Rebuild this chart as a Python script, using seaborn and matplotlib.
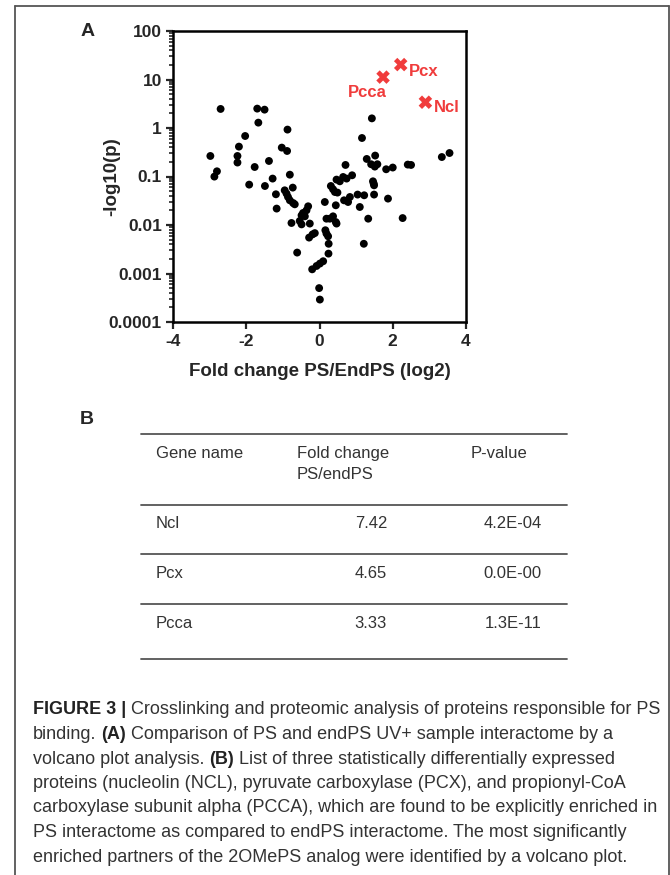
import numpy as np
import pandas as pd
import matplotlib
matplotlib.use("Agg")
import matplotlib.pyplot as plt
import seaborn as sns
from matplotlib.lines import Line2D

# volcano plot data
fold_change = [-2.98, -2.80, -2.87, -2.70, -2.24, -2.24, -2.20, -2.03, -1.92, -1.77,
               -1.70, -1.50, -1.67, -1.38, -1.49, -1.28, -1.19, -1.17, -1.03, -0.885,
               -0.874, -0.81, -0.73, -0.95, -0.90, -0.86, -0.81, -0.72, -0.675, -0.765,
               -0.61, -0.54, -0.49, -0.49, -0.45, -0.355, -0.31, -0.40, -0.265, -0.284,
               -0.19, -0.128, -0.20, -0.08, 0.01, 0.10, -0.01, 0.01,
               0.145, 0.16, 0.19, 0.235, 0.25, 0.245, 0.19, 0.28, 0.37, 0.445,
               0.465, 0.445, 0.31, 0.37, 0.42, 0.49, 0.465, 0.555, 0.645, 0.74,
               0.89, 0.71, 0.67, 0.78, 0.83,
               1.04, 1.22, 1.49, 1.10, 1.87, 1.33, 2.27, 1.21,
               1.43, 1.16, 1.29, 1.52, 1.41, 1.51, 1.58, 1.82, 2.0, 2.41,
               2.50, 3.34, 3.55, 1.46, 1.48, 1.49]
log_p = [0.265, 0.128, 0.0995, 2.47, 0.265, 0.194, 0.413, 0.684, 0.068, 0.157,
         2.51, 2.39, 1.29, 0.209, 0.0637, 0.0906, 0.043, 0.0218, 0.394, 0.336,
         0.927, 0.109, 0.059, 0.0519, 0.0444, 0.0378, 0.0323, 0.0284, 0.0267, 0.011,
         0.0027, 0.0121, 0.0103, 0.0158, 0.0177, 0.0201, 0.0243, 0.0151, 0.0107, 0.0055,
         0.0064, 0.0068, 0.00122, 0.00143, 0.0016, 0.00179, 0.0005, 0.00029,
         0.0298, 0.0078, 0.00665, 0.00585, 0.0041, 0.00257, 0.0135, 0.0135, 0.0151, 0.0115,
         0.0107, 0.0255, 0.0637, 0.0545, 0.0479, 0.0466, 0.0863, 0.0796, 0.0977, 0.0906,
         0.106, 0.173, 0.0323, 0.0298, 0.0378,
         0.0424, 0.041, 0.0424, 0.0235, 0.035, 0.0135, 0.0139, 0.0041,
         1.58, 0.622, 0.23, 0.27, 0.179, 0.16, 0.179, 0.141, 0.153, 0.176,
         0.173, 0.252, 0.305, 0.0796, 0.0714, 0.0658]

# the three hits
hit_names = ["Ncl", "Pcx", "Pcca"]
hit_fold = [7.42, 4.65, 3.33]
hit_logp = [3.4, 20.3, 11.2]
hit_pvalue = ["4.2E-04", "0.0E-00", "1.3E-11"]

x_ticks = [-4, -2, 0, 2, 4]
y_ticks = [0.0001, 0.001, 0.01, 0.1, 1, 10, 100]
y_ticklabels = ["0.0001", "0.001", "0.01", "0.1", "1", "10", "100"]

caption = [
    [("FIGURE 3 |", True), ("Crosslinking and proteomic analysis of proteins responsible for PS", False)],
    [("binding.", False), ("(A)", True), ("Comparison of PS and endPS UV+ sample interactome by a", False)],
    [("volcano plot analysis.", False), ("(B)", True), ("List of three statistically differentially expressed", False)],
    [("proteins (nucleolin (NCL), pyruvate carboxylase (PCX), and propionyl-CoA", False)],
    [("carboxylase subunit alpha (PCCA), which are found to be explicitly enriched in", False)],
    [("PS interactome as compared to endPS interactome. The most significantly", False)],
    [("enriched partners of the 2OMePS analog were identified by a volcano plot.", False)],
]

df = pd.DataFrame({"fc": fold_change, "p": log_p})
hits = pd.DataFrame({"name": hit_names, "fc": np.log2(hit_fold), "p": hit_logp})

sns.set_style("ticks")
plt.rcParams["font.family"] = ["Liberation Sans", "DejaVu Sans"]

W, H = 670, 875
fig = plt.figure(figsize=(W / 100, H / 100), dpi=100)


def fx(px):
    return px / W


def fy(py):
    return 1 - py / H


red = "#f03c3c"
ax = fig.add_axes([fx(173), fy(322), fx(466) - fx(173), fy(31) - fy(322)])
sns.scatterplot(data=df, x="fc", y="p", color="black", s=32, edgecolor="none",
                ax=ax, legend=False, zorder=3)
sns.scatterplot(data=hits, x="fc", y="p", color=red, marker="X", s=95,
                edgecolor="none", ax=ax, legend=False, zorder=4)

offsets = {"Ncl": (6, -4, "left"), "Pcx": (6, -5, "left"), "Pcca": (3, -11, "right")}
for _, r in hits.iterrows():
    dx, dy, ha = offsets[r["name"]]
    ax.annotate(r["name"], (r["fc"], r["p"]), xytext=(dx, dy), textcoords="offset points",
                ha=ha, va="center", color=red, fontsize=12, fontweight="bold")

ax.set_yscale("log")
ax.set_xlim(-4, 4)
ax.set_ylim(1e-4, 100)
ax.set_xticks(x_ticks)
ax.set_xticklabels([str(t) for t in x_ticks])
ax.set_yticks(y_ticks)
ax.set_yticklabels(y_ticklabels)
ax.tick_params(axis="both", which="major", direction="out", length=5, width=1.6,
               labelsize=12.5)
ax.tick_params(axis="x", which="major", pad=4)
ax.tick_params(axis="y", which="major", pad=3)
ax.tick_params(axis="y", which="minor", direction="out", length=3, width=1.2)
for lab in ax.get_xticklabels() + ax.get_yticklabels():
    lab.set_fontweight("bold")
for sp in ax.spines.values():
    sp.set_linewidth(1.8)
    sp.set_color("black")
ax.set_xlabel("Fold change PS/EndPS (log2)", fontsize=13.5, fontweight="bold")
ax.set_ylabel("-log10(p)", fontsize=13.5, fontweight="bold")
ax.xaxis.set_label_coords(0.5, -0.14)
ax.yaxis.set_label_coords(-0.18, 0.5)

# panel letters
fig.text(fx(88), fy(32), "A", fontsize=14, fontweight="bold", ha="center", va="center")
fig.text(fx(87), fy(419), "B", fontsize=14, fontweight="bold", ha="center", va="center")

# table B
grey = "#333333"
line_y = [434.3, 505, 554.3, 604, 659.3]
for ly in line_y:
    fig.add_artist(Line2D([fx(141), fx(567)], [fy(ly), fy(ly)], color="#555555", lw=1.3))
tsize = 12
head_y = line_y[0] + 19
fig.text(fx(156), fy(head_y), "Gene name", fontsize=tsize, color=grey, va="center")
fig.text(fx(297), fy(head_y), "Fold change", fontsize=tsize, color=grey, va="center")
fig.text(fx(297), fy(head_y + 21), "PS/endPS", fontsize=tsize, color=grey, va="center")
fig.text(fx(471), fy(head_y), "P-value", fontsize=tsize, color=grey, va="center")
for i, name in enumerate(hit_names):
    yc = fy(line_y[i + 1] + 19)
    fig.text(fx(156), yc, name, fontsize=tsize, color=grey, va="center")
    fig.text(fx(387), yc, f"{hit_fold[i]:.2f}", fontsize=tsize, color=grey, va="center", ha="right")
    fig.text(fx(542), yc, hit_pvalue[i], fontsize=tsize, color=grey, va="center", ha="right")

# outer frame (open at the bottom)
frame = dict(color="#555555", lw=1.3)
fig.add_artist(Line2D([fx(15), fx(15)], [fy(6), 0], **frame))
fig.add_artist(Line2D([fx(15), fx(669)], [fy(6), fy(6)], **frame))
fig.add_artist(Line2D([fx(669), fx(669)], [fy(6), 0], **frame))

# caption, fitted to the widest line
renderer = fig.canvas.get_renderer()
probe = fig.text(0, 0, caption[4][0][0], fontsize=12)
wpx = probe.get_window_extent(renderer).width
probe.remove()
csize = 12 * 624 / wpx


def text_w(s, bold):
    t = fig.text(0, 0, s, fontsize=csize, fontweight="bold" if bold else "normal")
    w = t.get_window_extent(renderer).width
    t.remove()
    return w


space = text_w("a a", False) - text_w("aa", False)
for i, pieces in enumerate(caption):
    x = 33
    y = 710 + 24.5 * i
    for txt, bold in pieces:
        fig.text(fx(x), fy(y), txt, fontsize=csize,
                 color="#222222" if bold else "#333333",
                 fontweight="bold" if bold else "normal", va="center", ha="left")
        x += text_w(txt, bold) + space

fig.savefig("out.png", dpi=100)
